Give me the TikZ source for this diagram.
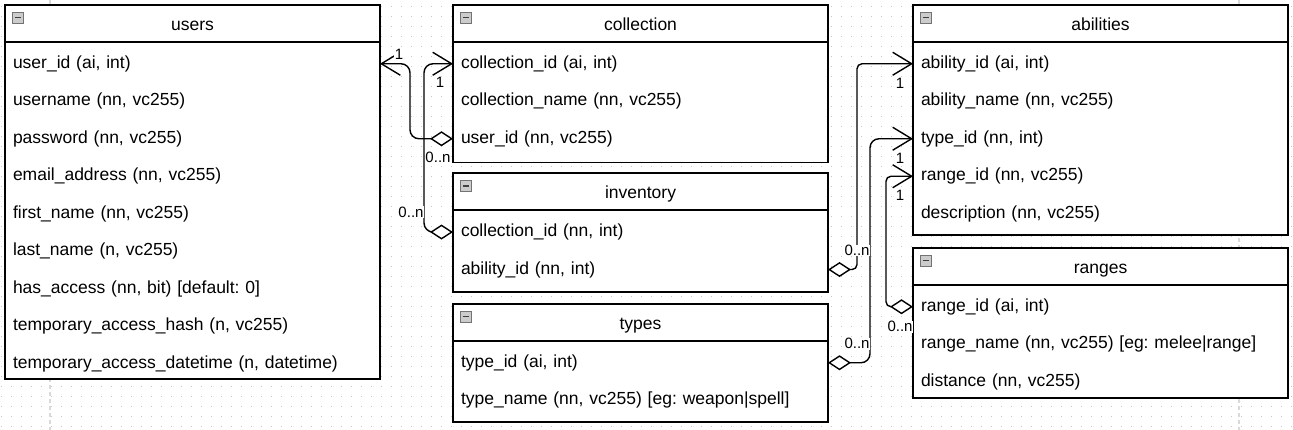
\documentclass[tikz,border=0pt]{standalone}
\usepackage{fontspec}
\setmainfont{Liberation Sans}
\usetikzlibrary{positioning,arrows.meta}
\frenchspacing

\begin{document}
\begin{tikzpicture}[
    x=1pt, y=-1pt,
    entity/.style={rectangle, draw=black, line width=1.6pt, fill=white, minimum width=375pt, anchor=north west, inner sep=0pt, outer sep=0pt},
    entityhead/.style={rectangle, draw=black, line width=1.6pt, minimum width=375pt, minimum height=37pt, anchor=north west, inner sep=0pt, outer sep=0pt, text height=18pt, text depth=4pt, font=\fontsize{17.5}{21}\selectfont},
    attr/.style={rectangle, text width=359pt, inner xsep=8pt, inner ysep=0pt, outer sep=0pt, minimum height=37.5pt, align=left, font=\fontsize{17.5}{21}\selectfont},
    collapse/.style={rectangle, draw=black!55, fill=black!20, line width=0.8pt, minimum size=11pt, inner sep=0pt, outer sep=0pt,
        path picture={\draw[line width=1.5pt, black!75] ([xshift=-3pt]path picture bounding box.center) -- ([xshift=3pt]path picture bounding box.center);}},
    card/.style={font=\fontsize{15}{18}\selectfont, fill=white, inner sep=0.5pt},
    rel/.style={line width=1.4pt, rounded corners=9pt, arrows={Diamond[length=23pt,width=15pt,fill=white]-Straight Barb[length=19pt,width=23pt]}},
]

\useasboundingbox (0,0) rectangle (1293,430);

% Background grid and page breaks
\foreach \gy in {0,...,42}
    \draw[black!22, line width=1pt, dash pattern=on 1pt off 9pt] (1.2,{6.7+10*\gy}) -- (1293,{6.7+10*\gy});
\draw[black!15, line width=1.5pt, dash pattern=on 4pt off 3pt] (50,0) -- (50,430);
\draw[black!15, line width=1.5pt, dash pattern=on 4pt off 3pt] (1239,0) -- (1239,430);

% users
\node[entity, minimum height=374pt] (users) at (5,5) {};
\node[entityhead] (users-h) at (5,5) {users};
\node[collapse, below right=7pt and 7pt of users-h.north west] (users-icon) {};
\node[attr, below=3pt of users-h] (u-user_id) {user\_id (ai, int)};
\node[attr, below=0pt of u-user_id] (u-username) {username (nn, vc255)};
\node[attr, below=0pt of u-username] (u-password) {password (nn, vc255)};
\node[attr, below=0pt of u-password] (u-email) {email\_address (nn, vc255)};
\node[attr, below=0pt of u-email] (u-first) {first\_name (nn, vc255)};
\node[attr, below=0pt of u-first] (u-last) {last\_name (n, vc255)};
\node[attr, below=0pt of u-last] (u-access) {has\_access (nn, bit) [default: 0]};
\node[attr, below=0pt of u-access] (u-hash) {temporary\_access\_hash (n, vc255)};
\node[attr, below=0pt of u-hash] (u-datetime) {temporary\_access\_datetime (n, datetime)};

% collection
\node[entity, minimum height=157.7pt] (collection) at (453,5) {};
\node[entityhead] (collection-h) at (453,5) {collection};
\node[collapse, below right=7pt and 7pt of collection-h.north west] (collection-icon) {};
\node[attr, below=3pt of collection-h] (c-collection_id) {collection\_id (ai, int)};
\node[attr, below=0pt of c-collection_id] (c-name) {collection\_name (nn, vc255)};
\node[attr, below=0pt of c-name] (c-user_id) {user\_id (nn, vc255)};

% inventory
\node[entity, minimum height=118.7pt] (inventory) at (453,173.3) {};
\node[entityhead] (inventory-h) at (453,173.3) {inventory};
\node[collapse, below right=7pt and 7pt of inventory-h.north west] (inventory-icon) {};
\node[attr, below=3pt of inventory-h] (i-collection_id) {collection\_id (nn, int)};
\node[attr, below=0pt of i-collection_id] (i-ability_id) {ability\_id (nn, int)};

% types
\node[entity, minimum height=118pt] (types) at (453,304) {};
\node[entityhead] (types-h) at (453,304) {types};
\node[collapse, below right=7pt and 7pt of types-h.north west] (types-icon) {};
\node[attr, below=3pt of types-h] (t-type_id) {type\_id (ai, int)};
\node[attr, below=0pt of t-type_id] (t-name) {type\_name (nn, vc255) [eg: weapon|spell]};

% abilities
\node[entity, minimum height=230pt] (abilities) at (913,5) {};
\node[entityhead] (abilities-h) at (913,5) {abilities};
\node[collapse, below right=7pt and 7pt of abilities-h.north west] (abilities-icon) {};
\node[attr, below=3pt of abilities-h] (a-ability_id) {ability\_id (ai, int)};
\node[attr, below=0pt of a-ability_id] (a-name) {ability\_name (nn, vc255)};
\node[attr, below=0pt of a-name] (a-type_id) {type\_id (nn, int)};
\node[attr, below=0pt of a-type_id] (a-range_id) {range\_id (nn, vc255)};
\node[attr, below=0pt of a-range_id] (a-desc) {description (nn, vc255)};

% ranges
\node[entity, minimum height=150pt] (ranges) at (913,248) {};
\node[entityhead] (ranges-h) at (913,248) {ranges};
\node[collapse, below right=7pt and 7pt of ranges-h.north west] (ranges-icon) {};
\node[attr, below=3pt of ranges-h] (r-range_id) {range\_id (ai, int)};
\node[attr, below=0pt of r-range_id] (r-name) {range\_name (nn, vc255) [eg: melee|range]};
\node[attr, below=0pt of r-name] (r-distance) {distance (nn, vc255)};

% Relations
\draw[rel] (c-user_id.west) -- ++(-43,0) |- (u-user_id.east);
\draw[rel] (i-collection_id.west) -- ++(-29,0) |- (c-collection_id.west);
\draw[rel, rounded corners=5pt] (i-ability_id.east) -- ++(29,0) |- (a-ability_id.west);
\draw[rel] (t-type_id.east) -- ++(42,0) |- (a-type_id.west);
\draw[rel, rounded corners=5pt] (r-range_id.west) -- ++(-27,0) |- (a-range_id.west);

% Cardinalities
\node[card] (card-u1) at ([shift={(19,-9)}]u-user_id.east) {1};
\node[card] (card-c0) at ([shift={(-15,19)}]c-user_id.west) {0..n};
\node[card] (card-c1) at ([shift={(-13,19)}]c-collection_id.west) {1};
\node[card] (card-i0) at ([shift={(-42,-20)}]i-collection_id.west) {0..n};
\node[card] (card-a1) at ([shift={(-13,20)}]a-ability_id.west) {1};
\node[card] (card-i1) at ([shift={(29,-19)}]i-ability_id.east) {0..n};
\node[card] (card-a2) at ([shift={(-13,20)}]a-type_id.west) {1};
\node[card] (card-t0) at ([shift={(29,-19)}]t-type_id.east) {0..n};
\node[card] (card-a3) at ([shift={(-13,19)}]a-range_id.west) {1};
\node[card] (card-r0) at ([shift={(-13,20)}]r-range_id.west) {0..n};

\end{tikzpicture}
\end{document}
